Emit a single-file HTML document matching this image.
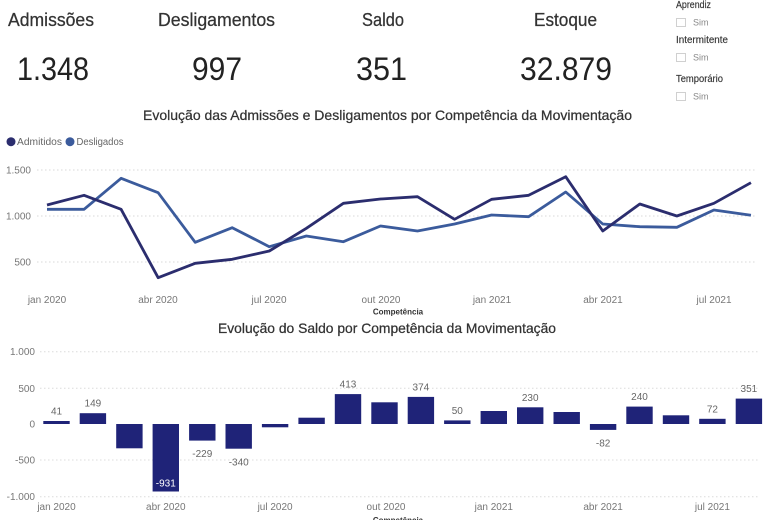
<!DOCTYPE html>
<html><head><meta charset="utf-8"><style>
html,body{margin:0;padding:0;background:#fff;}
svg{display:block;font-family:"Liberation Sans",sans-serif;}
</style></head><body>
<svg width="768" height="520" viewBox="0 0 768 520" xmlns="http://www.w3.org/2000/svg">
<rect width="768" height="520" fill="#fff"/>
<!-- KPIs -->
<g fill="#333" font-size="18" stroke="#333" stroke-width="0.25">
<text x="8" y="26" textLength="86" lengthAdjust="spacingAndGlyphs">Admissões</text>
<text x="158" y="26" textLength="117" lengthAdjust="spacingAndGlyphs">Desligamentos</text>
<text x="362" y="26" textLength="42" lengthAdjust="spacingAndGlyphs">Saldo</text>
<text x="534" y="26" textLength="63" lengthAdjust="spacingAndGlyphs">Estoque</text>
</g>
<g fill="#222" font-size="32">
<text x="17" y="80" textLength="72" lengthAdjust="spacingAndGlyphs">1.348</text>
<text x="192" y="80" textLength="50" lengthAdjust="spacingAndGlyphs">997</text>
<text x="356" y="80" textLength="51" lengthAdjust="spacingAndGlyphs">351</text>
<text x="520" y="80" textLength="92" lengthAdjust="spacingAndGlyphs">32.879</text>
</g>
<!-- slicers -->
<g font-size="10.5" fill="#333" stroke="#333" stroke-width="0.15">
<text x="676" y="8" textLength="35" lengthAdjust="spacingAndGlyphs">Aprendiz</text>
<text x="676" y="43" textLength="52" lengthAdjust="spacingAndGlyphs">Intermitente</text>
<text x="676" y="82" textLength="47" lengthAdjust="spacingAndGlyphs">Temporário</text>
</g>
<g fill="none" stroke="#d0d0d0" stroke-width="1">
<rect x="676.5" y="18.5" width="9" height="8"/>
<rect x="676.5" y="53.5" width="9" height="8"/>
<rect x="676.5" y="92.5" width="9" height="8"/>
</g>
<g font-size="9" fill="#888">
<text x="693" y="25.5">Sim</text>
<text x="693" y="60.5">Sim</text>
<text x="693" y="99.5">Sim</text>
</g>
<!-- line chart title -->
<text x="143" y="120" font-size="14" fill="#333" stroke="#333" stroke-width="0.25" textLength="489" lengthAdjust="spacingAndGlyphs">Evolução das Admissões e Desligamentos por Competência da Movimentação</text>
<!-- legend -->
<circle cx="11" cy="141.7" r="4.5" fill="#2b2d6e"/>
<text x="17" y="145" font-size="10" fill="#666" textLength="45" lengthAdjust="spacingAndGlyphs">Admitidos</text>
<circle cx="70" cy="141.7" r="4.5" fill="#3b5b9c"/>
<text x="76.5" y="145" font-size="10" fill="#666" textLength="47" lengthAdjust="spacingAndGlyphs">Desligados</text>
<!-- line grid -->
<g stroke="#d8d8d8" stroke-width="1" stroke-dasharray="1.5,2.5">
<line x1="37" y1="170" x2="757" y2="170"/>
<line x1="37" y1="216" x2="757" y2="216"/>
<line x1="37" y1="262" x2="757" y2="262"/>
</g>
<g font-size="10" fill="#777" text-anchor="end">
<text x="31" y="173.5">1.500</text>
<text x="31" y="219.5">1.000</text>
<text x="31" y="265.5">500</text>
</g>
<g font-size="10" fill="#777" text-anchor="middle">
<text x="47" y="303">jan 2020</text>
<text x="158" y="303">abr 2020</text>
<text x="269" y="303">jul 2020</text>
<text x="381" y="303">out 2020</text>
<text x="492" y="303">jan 2021</text>
<text x="603" y="303">abr 2021</text>
<text x="714" y="303">jul 2021</text>
</g>
<text x="398" y="314.5" font-size="8" font-weight="bold" fill="#333" text-anchor="middle">Competência</text>
<!-- lines -->
<polyline fill="none" stroke="#3b5b9c" stroke-width="2.8" stroke-linejoin="round" points="47,209.3 84.05,209.3 121.1,178.3 158.15,192.7 195.2,242.3 232.25,227.7 269.3,246.7 306.35,236 343.4,241.7 380.45,226 417.5,231 454.55,224 491.6,215 528.65,216.7 565.7,192 602.75,224 639.8,226.7 676.85,227.3 713.9,210 750.95,215.3"/>
<polyline fill="none" stroke="#2b2d6e" stroke-width="2.8" stroke-linejoin="round" points="47,205 84.05,195.3 121.1,209.3 158.15,277.7 195.2,263.3 232.25,259.3 269.3,251 306.35,228.3 343.4,203.3 380.45,199 417.5,196.7 454.55,219.3 491.6,199.3 528.65,195.3 565.7,176.7 602.75,231 639.8,204 676.85,216 713.9,203.3 750.95,182.7"/>
<!-- bar chart title -->
<text x="218" y="333" font-size="14" fill="#333" stroke="#333" stroke-width="0.25" textLength="338" lengthAdjust="spacingAndGlyphs">Evolução do Saldo por Competência da Movimentação</text>
<g stroke="#dcdcdc" stroke-width="1" stroke-dasharray="1.5,2.5">
<line x1="40" y1="351.7" x2="760" y2="351.7"/>
<line x1="40" y1="388.3" x2="760" y2="388.3"/>
<line x1="40" y1="460" x2="760" y2="460"/>
<line x1="40" y1="496.7" x2="760" y2="496.7"/>
</g>
<g font-size="10" fill="#777" text-anchor="end">
<text x="35" y="355.2">1.000</text>
<text x="35" y="391.8">500</text>
<text x="35" y="427.5">0</text>
<text x="35" y="463.5">-500</text>
<text x="35" y="500.2">-1.000</text>
</g>
<g fill="#1f2378">
<rect x="43.3" y="421" width="26.4" height="3"/>
<rect x="79.7" y="413.2" width="26.4" height="10.8"/>
<rect x="116.2" y="424" width="26.4" height="24.3"/>
<rect x="152.6" y="424" width="26.4" height="67.5"/>
<rect x="189.1" y="424" width="26.4" height="16.6"/>
<rect x="225.5" y="424" width="26.4" height="24.7"/>
<rect x="261.9" y="424" width="26.4" height="3.3"/>
<rect x="298.4" y="417.7" width="26.4" height="6.3"/>
<rect x="334.8" y="394.1" width="26.4" height="29.9"/>
<rect x="371.3" y="402.3" width="26.4" height="21.7"/>
<rect x="407.7" y="396.9" width="26.4" height="27.1"/>
<rect x="444.1" y="420.4" width="26.4" height="3.6"/>
<rect x="480.6" y="411" width="26.4" height="13"/>
<rect x="517" y="407.3" width="26.4" height="16.7"/>
<rect x="553.5" y="412" width="26.4" height="12"/>
<rect x="589.9" y="424" width="26.4" height="5.9"/>
<rect x="626.3" y="406.6" width="26.4" height="17.4"/>
<rect x="662.8" y="415.3" width="26.4" height="8.7"/>
<rect x="699.2" y="418.8" width="26.4" height="5.2"/>
<rect x="735.7" y="398.6" width="26.4" height="25.4"/>
</g>
<g font-size="10" fill="#666" text-anchor="middle">
<text x="56.5" y="414.5">41</text>
<text x="92.9" y="406.7">149</text>
<text x="202.3" y="457">-229</text>
<text x="238.7" y="465.4">-340</text>
<text x="348" y="387.6">413</text>
<text x="420.9" y="390.4">374</text>
<text x="457.3" y="413.9">50</text>
<text x="530.2" y="400.8">230</text>
<text x="603.1" y="446.4">-82</text>
<text x="639.5" y="400.1">240</text>
<text x="712.4" y="412.3">72</text>
<text x="748.9" y="392.1">351</text>
</g>
<text x="165.8" y="486.4" font-size="10" fill="#fff" text-anchor="middle">-931</text>
<g font-size="10" fill="#777" text-anchor="middle">
<text x="56.5" y="510">jan 2020</text>
<text x="165.8" y="510">abr 2020</text>
<text x="275.1" y="510">jul 2020</text>
<text x="386" y="510">out 2020</text>
<text x="493.8" y="510">jan 2021</text>
<text x="603.1" y="510">abr 2021</text>
<text x="712.4" y="510">jul 2021</text>
</g>
<text x="398" y="523" font-size="8" font-weight="bold" fill="#333" text-anchor="middle">Competência</text>
</svg>
</body></html>
